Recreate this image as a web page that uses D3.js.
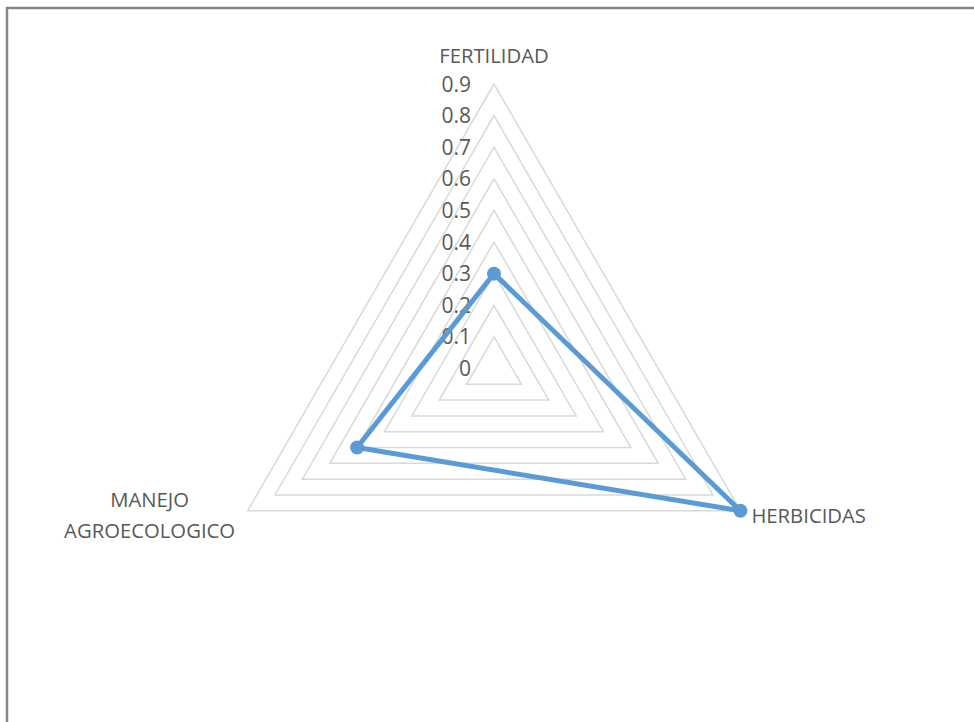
<!DOCTYPE html>
<html>
<head>
<meta charset="utf-8">
<script src="https://cdn.jsdelivr.net/npm/d3@7"></script>
<style>
  body { margin: 0; background: #fff; }
  text { font-family: "Open Sans", "Liberation Sans", sans-serif; fill: #595959; }
</style>
</head>
<body>
<svg id="chart" width="974" height="722"></svg>
<script>
var categories = ["FERTILIDAD", "HERBICIDAS", "MANEJO AGROECOLOGICO"];
var values = [0.3, 0.9, 0.5];
var ticks = [0, 0.1, 0.2, 0.3, 0.4, 0.5, 0.6, 0.7, 0.8, 0.9];

var svg = d3.select("#chart"),
    CX = 494,
    CY = 368.5,
    RADIUS = 284.5;

// frame
svg.append("rect")
  .attr("x", 7).attr("y", 8)
  .attr("width", 1000).attr("height", 800)
  .attr("fill", "none")
  .attr("stroke", "#878787")
  .attr("stroke-width", 2.5);

var rScale = d3.scaleLinear().domain([0, 0.9]).range([0, RADIUS]);

function angle(i) {
  return -Math.PI / 2 + i * 2 * Math.PI / categories.length;
}
function point(i, v) {
  return [CX + rScale(v) * Math.cos(angle(i)), CY + rScale(v) * Math.sin(angle(i))];
}

// rings
svg.append("g").selectAll("path")
  .data(ticks.slice(1))
  .enter().append("path")
  .attr("d", function(t) {
    return d3.line()(categories.map(function(c, i) { return point(i, t); })) + "Z";
  })
  .attr("fill", "none")
  .attr("stroke", "#d9d9d9")
  .attr("stroke-width", 1.5);

// tick labels
svg.append("g").selectAll("text")
  .data(ticks)
  .enter().append("text")
  .attr("x", CX - 23)
  .attr("y", function(t) { return CY - rScale(t) + 7.5; })
  .attr("text-anchor", "end")
  .style("font-size", "21px")
  .text(function(t) { return t === 0 ? "0" : d3.format(".1f")(t); });

// series line
var pts = values.map(function(v, i) { return point(i, v); });
svg.append("path")
  .attr("d", d3.line()(pts) + "Z")
  .attr("fill", "none")
  .attr("stroke", "#5b9bd5")
  .attr("stroke-width", 5)
  .attr("stroke-linejoin", "round");

svg.append("g").selectAll("circle")
  .data(pts)
  .enter().append("circle")
  .attr("cx", function(d) { return d[0]; })
  .attr("cy", function(d) { return d[1]; })
  .attr("r", 7)
  .attr("fill", "#5b9bd5");

// category labels
var lbl = svg.append("g").style("font-size", "20.3px");
var pTop = point(0, 0.9);
lbl.append("text")
  .attr("x", pTop[0]).attr("y", pTop[1] - 21)
  .attr("text-anchor", "middle")
  .text(categories[0]);

var pRight = point(1, 0.9);
lbl.append("text")
  .attr("x", pRight[0] + 11).attr("y", pRight[1] + 12)
  .text(categories[1]);

var pLeft = point(2, 0.9);
var words = categories[2].split(" ");
lbl.append("text")
  .attr("x", pLeft[0] - 98).attr("y", pLeft[1] - 4)
  .attr("text-anchor", "middle")
  .text(words[0]);
lbl.append("text")
  .attr("x", pLeft[0] - 98).attr("y", pLeft[1] + 27)
  .attr("text-anchor", "middle")
  .text(words[1]);
</script>
</body>
</html>
